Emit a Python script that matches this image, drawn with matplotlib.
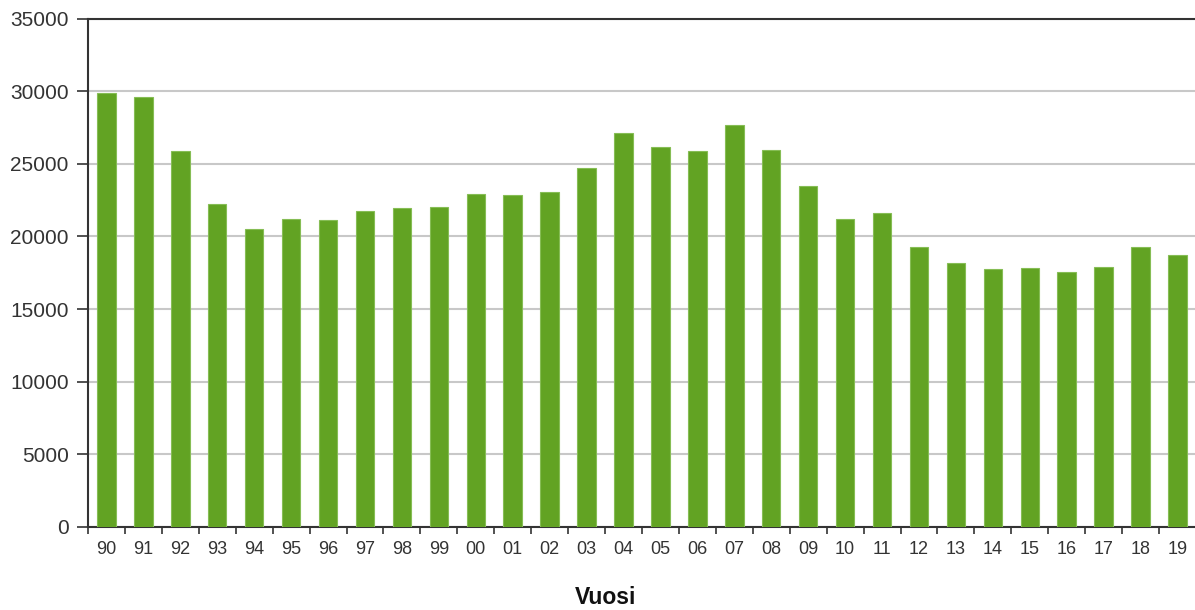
import matplotlib
matplotlib.use("Agg")
import matplotlib.pyplot as plt
import numpy as np

years = ["90", "91", "92", "93", "94", "95", "96", "97", "98", "99",
         "00", "01", "02", "03", "04", "05", "06", "07", "08", "09",
         "10", "11", "12", "13", "14", "15", "16", "17", "18", "19"]
values = [29850, 29570, 25850, 22210, 20490, 21180, 21110, 21730, 21940, 22000,
          22890, 22830, 23040, 24690, 27090, 26130, 25850, 27640, 25920, 23450,
          21220, 21590, 19250, 18150, 17740, 17800, 17530, 17870, 19250, 18700]
yticks = [0, 5000, 10000, 15000, 20000, 25000, 30000, 35000]
xlabel = "Vuosi"

plt.rcParams['font.family'] = ['Liberation Sans', 'DejaVu Sans']

W, H = 1195, 610
fig = plt.figure(figsize=(W / 100, H / 100), dpi=100)
ax = fig.add_axes([88 / W, 1 - 527 / H, (1196 - 88) / W, (527 - 18.5) / H])

x = np.arange(len(years))
ax.bar(x, values, width=0.5, color='#62a323', edgecolor='#86bd55', linewidth=0.8, zorder=3)

ax.set_xlim(-0.5, len(years) - 0.5)
ax.set_ylim(0, 35000)
ax.set_yticks(yticks)
ax.set_yticklabels([str(v) for v in yticks], fontsize=15, color='#333333')
ax.yaxis.grid(True, color='#c8c8c8', linewidth=1.5, zorder=0)
ax.set_axisbelow(True)

ax.set_xticks(x)
ax.set_xticklabels(years, fontsize=13, color='#333333')
ax.set_xticks(np.arange(-0.5, len(years), 1.0), minor=True)
ax.tick_params(axis='x', which='major', length=0, pad=10)
ax.tick_params(axis='x', which='minor', length=5, width=1.2, color='#333333', direction='out')
ax.tick_params(axis='y', length=8, width=1.2, color='#333333', pad=6)

for s in ['left', 'bottom', 'top']:
    ax.spines[s].set_color('#333333')
    ax.spines[s].set_linewidth(1.5)
ax.spines['right'].set_visible(False)

fig.text(606 / W, 1 - 598 / H, xlabel, fontsize=16.5, fontweight='bold',
         ha='center', va='center', color='#111111')

fig.savefig("out.png", dpi=100)
